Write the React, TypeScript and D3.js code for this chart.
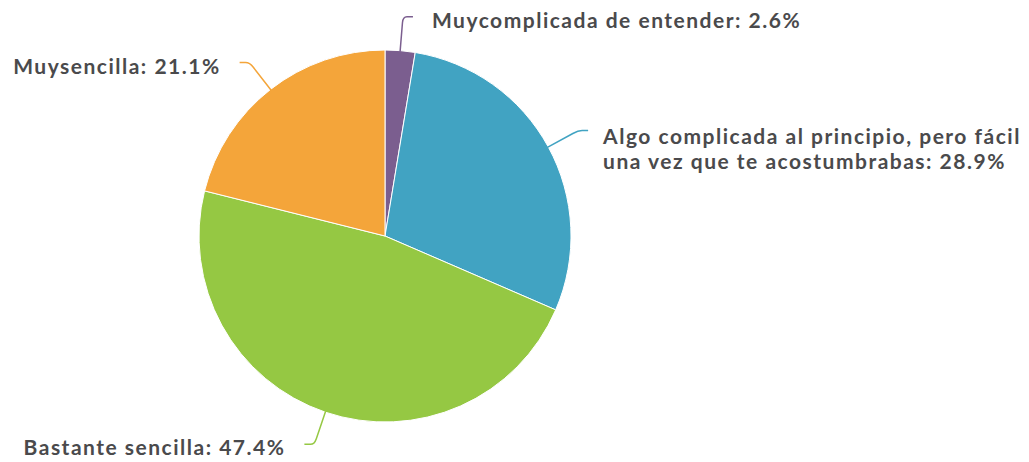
import React from "react";
import * as d3 from "d3";

const categories = [
  ["Muycomplicada de entender: 2.6%"],
  ["Algo complicada al principio, pero fácil", "una vez que te acostumbrabas: 28.9%"],
  ["Bastante sencilla: 47.4%"],
  ["Muysencilla: 21.1%"],
];
const values = [2.6, 28.9, 47.4, 21.1];
const colors = ["#7b5e8f", "#41a3c2", "#95c843", "#f4a53a"];

const width = 1029;
const height = 462;
const cx = 385;
const cy = 236;
const radius = 186;

export default function App() {
  const pie = d3.pie<number>().value(d => d).sort(null);
  const arcs = pie(values);
  const arc = d3.arc<d3.PieArcDatum<number>>().innerRadius(0).outerRadius(radius);

  return (
    <svg width={width} height={height} style={{ position: "absolute", left: 0, top: 0 }}>
      <rect width={width} height={height} fill="#fff" />
      <g transform={`translate(${cx},${cy})`}>
        {arcs.map((a, i) => (
          <path key={i} d={arc(a) || ""} fill={colors[i]} stroke="#fff" strokeWidth={1} />
        ))}
        {arcs.map((a, i) => {
          const mid = (a.startAngle + a.endAngle) / 2;
          const s = Math.sin(mid);
          const c = -Math.cos(mid);
          const x0 = s * (radius - 1);
          const y0 = c * (radius - 1);
          const ex = s * 220;
          const ey = c * 220;
          const dir = s >= 0 ? 1 : -1;
          const hx = ex + dir * 10;
          const path = `M${x0},${y0} L${ex - s * 6},${ey - c * 6} Q${ex},${ey} ${ex + dir * 4},${ey} L${hx},${ey}`;
          const lines = categories[i];
          const tx = hx + dir * (lines.length > 1 ? 15 : 19);
          const ty = ey + (lines.length > 1 ? 13 : 11);
          return (
            <g key={"l" + i}>
              <path d={path} fill="none" stroke={colors[i]} strokeWidth={1.5} />
              <text
                x={tx}
                y={ty}
                textAnchor={dir > 0 ? "start" : "end"}
                fontFamily="Lato, sans-serif"
                fontWeight="bold"
                fontSize={21}
                letterSpacing={1.5}
                fill="#4a4a4c"
              >
                {lines.map((t, j) => (
                  <tspan key={j} x={tx} dy={j === 0 ? 0 : 25}>
                    {t}
                  </tspan>
                ))}
              </text>
            </g>
          );
        })}
      </g>
    </svg>
  );
}
